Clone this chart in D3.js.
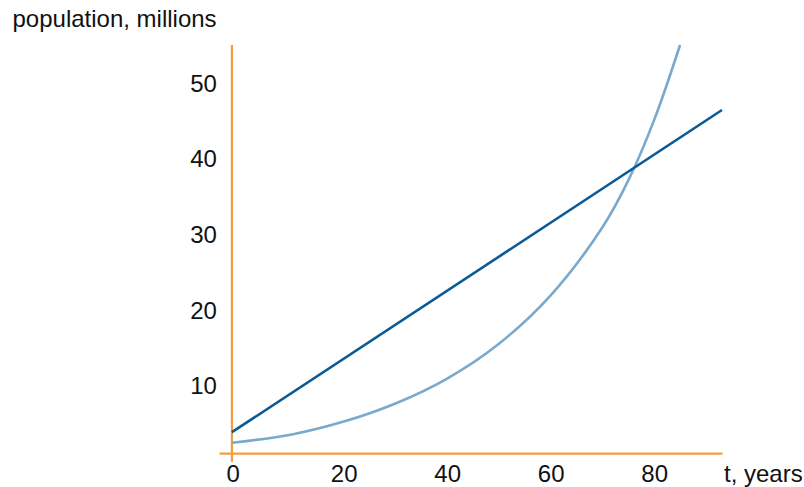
<!DOCTYPE html>
<html>
<head>
<meta charset="utf-8">
<script src="https://cdn.jsdelivr.net/npm/d3@7"></script>
<style>
  html, body { margin: 0; padding: 0; background: #fff; }
  svg text { font-family: "Liberation Sans", Arial, Helvetica, sans-serif; fill: #111; }
</style>
</head>
<body>
<svg id="chart" width="804" height="487"></svg>
<script>
// ---- data ----
const xTicks = [0, 20, 40, 60, 80];
const yTicks = [10, 20, 30, 40, 50];
const xLabel = "t, years";
const yLabel = "population, millions";

// linear growth (dark blue)
const linearT = [-1.6, 93.1];
const linearP = [3.9, 46.5];

// exponential growth (light blue)
const expT = [-1.6, 10, 20, 30, 40, 50, 60, 70, 75, 80, 85];
const expP = [2.5, 3.6, 5.3, 7.7, 11.0, 15.6, 22.0, 31.0, 37.2, 45.2, 55.1];

// axis placement (in data units)
const xAxisAt = 1.08;   // P value where horizontal axis sits
const yAxisAt = -1.6;   // t value where vertical axis sits
const xExtent = [-4, 93.2];
const yExtent = [0, 55.1];

// ---- drawing ----
const svg = d3.select("#chart");
const x = d3.scaleLinear().domain(xExtent).range([219.5, 722.5]);
const y = d3.scaleLinear().domain(yExtent).range([461.7, 45]);

const axisColor = "#f59d3d";
const fontSize = 24;

// x axis
const gx = svg.append("g")
  .attr("transform", `translate(0,${y(xAxisAt)})`)
  .call(d3.axisBottom(x).tickValues(xTicks).tickSize(0).tickPadding(11).tickFormat(d3.format("d")));
gx.select(".domain").remove();
gx.selectAll("text").attr("font-size", fontSize).attr("font-family", null)
  .attr("dx", d => d === 0 ? -7.5 : 0);
svg.append("line")
  .attr("x1", x(xExtent[0])).attr("x2", x(xExtent[1]))
  .attr("y1", y(xAxisAt)).attr("y2", y(xAxisAt))
  .attr("stroke", axisColor).attr("stroke-width", 2.2);

// y axis
const gy = svg.append("g")
  .attr("transform", `translate(${x(yAxisAt)},0)`)
  .call(d3.axisLeft(y).tickValues(yTicks).tickSize(0).tickPadding(15).tickFormat(d3.format("d")));
gy.select(".domain").remove();
gy.selectAll("text").attr("font-size", fontSize).attr("font-family", null);
svg.append("line")
  .attr("x1", x(yAxisAt)).attr("x2", x(yAxisAt))
  .attr("y1", y(yExtent[0])).attr("y2", y(yExtent[1]))
  .attr("stroke", axisColor).attr("stroke-width", 2.2);

// axis titles
svg.append("text").attr("x", 12.5).attr("y", 26.5).attr("font-size", fontSize).text(yLabel);
svg.append("text").attr("x", 724).attr("y", 482).attr("font-size", fontSize).text(xLabel);

// series
const lineGen = d3.line().x(d => x(d[0])).y(d => y(d[1])).curve(d3.curveCatmullRom.alpha(0.5));

svg.append("path")
  .datum(expT.map((t, i) => [t, expP[i]]))
  .attr("d", lineGen)
  .attr("fill", "none").attr("stroke", "#79a9cd").attr("stroke-width", 2.6);

svg.append("path")
  .datum(linearT.map((t, i) => [t, linearP[i]]))
  .attr("d", lineGen)
  .attr("fill", "none").attr("stroke", "#0a5a96").attr("stroke-width", 2.6);
</script>
</body>
</html>
